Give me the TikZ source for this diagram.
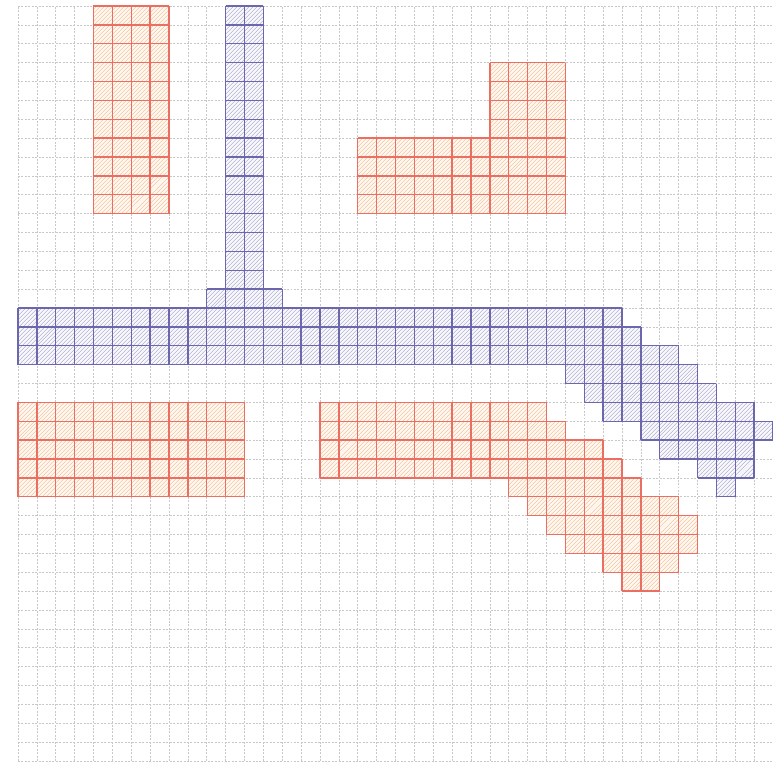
\documentclass[tikz,border=0pt]{standalone}
\usetikzlibrary{patterns.meta}
\definecolor{redline}{RGB}{234,110,98}
\definecolor{redhatch}{RGB}{242,186,140}
\definecolor{redfill}{RGB}{255,248,242}
\definecolor{blueline}{RGB}{108,102,172}
\definecolor{bluehatch}{RGB}{162,162,198}
\definecolor{bluefill}{RGB}{248,248,252}
\definecolor{gridgray}{RGB}{200,200,200}
\tikzset{
  bggrid/.style={draw=gridgray, line width=1pt, dash pattern=on 3pt off 2.2pt},
  redarea/.style={preaction={fill=redfill}, pattern={Lines[angle=45,distance=4pt,line width=0.9pt]}, pattern color=redhatch},
  bluearea/.style={preaction={fill=bluefill}, pattern={Lines[angle=45,distance=4pt,line width=0.9pt]}, pattern color=bluehatch},
  redborder/.style={draw=redline, line width=2pt},
  blueborder/.style={draw=blueline, line width=2pt},
}
\begin{document}
\begin{tikzpicture}[x=1cm,y=1cm]
\useasboundingbox (-0.952,0.317) rectangle (40,-40);
% background grid
\draw[bggrid] (0,0) grid (40,-40);
% red shapes
\foreach \a/\b/\c/\d in {4/0/8/11, 25/3/29/7, 18/7/29/11, 0/21/12/26,
  16/21/28/22, 16/22/29/23, 16/23/31/24, 16/24/32/25, 26/25/33/26, 27/26/35/27,
  28/27/36/28, 29/28/36/29, 31/29/35/30, 32/30/34/31}{
  \fill[redarea] (\a,-\b) rectangle (\c,-\d);
}
% blue shapes
\foreach \a/\b/\c/\d in {11/0/13/15, 10/15/14/16, 0/16/32/17, 0/17/33/18, 0/18/35/19,
  29/19/36/20, 30/20/37/21, 31/21/39/22, 33/22/40/23, 34/23/39/24, 36/24/39/25, 37/25/38/26}{
  \fill[bluearea] (\a,-\b) rectangle (\c,-\d);
}
% cell borders
\foreach \a/\b/\c/\d in {4/0/8/11, 25/3/29/7, 18/7/29/11, 0/21/12/26,
  16/21/28/22, 16/22/29/23, 16/23/31/24, 16/24/32/25, 26/25/33/26, 27/26/35/27,
  28/27/36/28, 29/28/36/29, 31/29/35/30, 32/30/34/31}{
  \draw[redborder] (\a,-\b) grid (\c,-\d);
}
\foreach \a/\b/\c/\d in {11/0/13/15, 10/15/14/16, 0/16/32/17, 0/17/33/18, 0/18/35/19,
  29/19/36/20, 30/20/37/21, 31/21/39/22, 33/22/40/23, 34/23/39/24, 36/24/39/25, 37/25/38/26}{
  \draw[blueborder] (\a,-\b) grid (\c,-\d);
}
\end{tikzpicture}
\end{document}
